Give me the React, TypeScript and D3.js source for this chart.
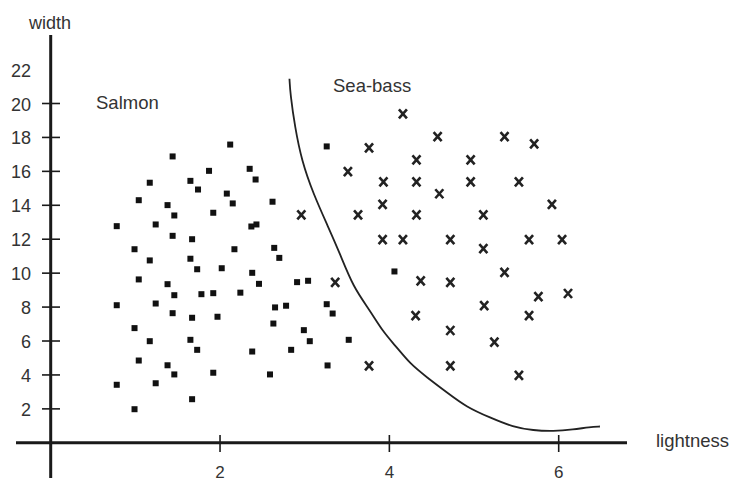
import React from "react";
import * as d3 from "d3";

// Salmon samples: [lightness, width]
const salmonLightness = [
  1.44, 2.12, 1.87, 2.35, 2.42, 1.17, 1.65, 1.74, 2.08, 1.04, 1.38, 2.15, 2.62,
  1.46, 1.92, 0.78, 1.24, 2.37, 2.43, 1.44, 1.67, 0.99, 2.17, 2.64, 2.7, 1.17,
  1.65, 1.73, 2.02, 2.38, 3.26, 4.06, 1.04, 1.38, 2.46, 2.91, 3.04, 1.46, 1.78,
  1.92, 2.24, 0.78, 1.24, 2.65, 2.78, 3.26, 1.44, 1.67, 1.97, 3.33, 2.63, 0.99,
  2.99, 1.17, 1.65, 3.06, 3.52, 1.73, 2.38, 2.84, 1.04, 1.38, 3.27, 1.46, 1.92,
  2.59, 0.78, 1.24, 1.67, 0.99,
];
const salmonWidth = [
  16.88, 17.58, 16.03, 16.15, 15.52, 15.33, 15.44, 14.93, 14.69, 14.3, 14.01,
  14.11, 14.21, 13.4, 13.56, 12.77, 12.87, 12.75, 12.87, 12.2, 12.0, 11.41,
  11.41, 11.49, 10.9, 10.75, 10.85, 10.23, 10.29, 10.02, 17.47, 10.1, 9.63,
  9.35, 9.37, 9.47, 9.55, 8.7, 8.76, 8.82, 8.85, 8.11, 8.21, 7.98, 8.08, 8.17,
  7.64, 7.37, 7.43, 7.62, 7.03, 6.76, 6.64, 5.99, 6.07, 5.99, 6.07, 5.48, 5.38,
  5.48, 4.85, 4.57, 4.56, 4.03, 4.13, 4.03, 3.42, 3.51, 2.57, 1.98,
];

// Sea-bass samples: [lightness, width]
const seabassLightness = [
  4.16, 4.57, 5.36, 5.71, 3.76, 4.32, 4.96, 3.51, 3.93, 4.32, 4.96, 5.53, 4.59,
  3.92, 5.92, 2.96, 3.63, 4.32, 5.11, 3.92, 4.16, 4.72, 5.65, 6.04, 5.11, 5.36,
  4.37, 4.72, 3.36, 6.11, 5.76, 5.12, 4.31, 5.65, 4.72, 5.24, 3.76, 4.72, 5.53,
];
const seabassWidth = [
  19.39, 18.05, 18.05, 17.62, 17.39, 16.68, 16.68, 15.99, 15.38, 15.38, 15.38,
  15.38, 14.68, 14.05, 14.05, 13.44, 13.44, 13.44, 13.44, 11.98, 11.98, 11.98,
  11.98, 11.98, 11.44, 10.04, 9.54, 9.45, 9.45, 8.8, 8.62, 8.08, 7.5, 7.5,
  6.62, 5.93, 4.54, 4.54, 3.97,
];

// Decision boundary
const boundaryLightness = [
  2.82, 2.83, 2.885, 2.964, 3.101, 3.279, 3.417, 3.574, 3.771, 3.928, 4.086,
  4.244, 4.441, 4.677, 4.913, 5.188, 5.464, 5.7, 5.936, 6.172, 6.369, 6.487,
];
const boundaryWidth = [
  21.46, 20.57, 18.6, 16.64, 14.68, 12.71, 11.14, 9.17, 7.8, 6.52, 5.64, 4.66,
  3.87, 2.98, 2.1, 1.49, 0.92, 0.73, 0.68, 0.78, 0.93, 0.96,
];

const yTickValues = [2, 4, 6, 8, 10, 12, 14, 16, 18, 20];
const yLabelValues = [2, 4, 6, 8, 10, 12, 14, 16, 18, 20, 22];
const xTickValues = [2, 4, 6];

const W = 734;
const H = 482;

export default function App() {
  const x = d3.scaleLinear().domain([0, 6]).range([50.7, 558.7]);
  const y = d3.scaleLinear().domain([0, 20]).range([442.8, 103.5]);

  const line = d3
    .line<number>()
    .x((_, i) => x(boundaryLightness[i]))
    .y((_, i) => y(boundaryWidth[i]))
    .curve(d3.curveBasis);

  const font = "'Liberation Sans', Arial, sans-serif";
  const textColor = "#333";
  const ink = "#1a1a1a";
  const sq = 6;

  return (
    <svg
      width={W}
      height={H}
      style={{ position: "absolute", left: 0, top: 0, background: "#fff" }}
      fontFamily={font}
    >
      <rect x={0} y={0} width={W} height={H} fill="#fff" />
      {/* axes */}
      <line x1={x(0)} x2={x(0)} y1={35} y2={478} stroke={ink} strokeWidth={3} />
      <line x1={16} x2={627} y1={y(0)} y2={y(0)} stroke={ink} strokeWidth={3} />
      {yTickValues.map((v) => (
        <line key={"yt" + v} x1={42} x2={60} y1={y(v)} y2={y(v)} stroke={ink} strokeWidth={1.6} />
      ))}
      {yLabelValues.map((v) => (
        <text
          key={"yl" + v}
          x={31}
          y={y(v) + 7}
          textAnchor="end"
          fontSize={18}
          fill={textColor}
        >
          {v}
        </text>
      ))}
      {xTickValues.map((v) => (
        <line key={"xt" + v} x1={x(v)} x2={x(v)} y1={435} y2={452} stroke={ink} strokeWidth={1.6} />
      ))}
      {xTickValues.map((v) => (
        <text key={"xl" + v} x={x(v)} y={478} textAnchor="middle" fontSize={17} fill={textColor}>
          {v}
        </text>
      ))}
      <text x={50} y={29} textAnchor="middle" fontSize={18} fill={textColor}>
        width
      </text>
      <text x={656} y={447} fontSize={18.5} fill={textColor}>
        lightness
      </text>
      <text x={96} y={109} fontSize={18.5} fill={textColor}>
        Salmon
      </text>
      <text x={333} y={91.5} fontSize={18.5} fill={textColor}>
        Sea-bass
      </text>

      {/* boundary */}
      <path d={line(boundaryLightness) || ""} fill="none" stroke="#222" strokeWidth={1.8} />

      {/* salmon */}
      {salmonLightness.map((lx, i) => (
        <rect
          key={"s" + i}
          x={x(lx) - sq / 2}
          y={y(salmonWidth[i]) - sq / 2}
          width={sq}
          height={sq}
          fill="#111"
        />
      ))}

      {/* sea-bass */}
      {seabassLightness.map((lx, i) => {
        const cx = x(lx);
        const cy = y(seabassWidth[i]);
        return (
          <path
            key={"b" + i}
            d={`M${cx - 4},${cy - 4.5}L${cx + 4},${cy + 4.5}M${cx + 4},${cy - 4.5}L${cx - 4},${cy + 4.5}`}
            stroke="#222"
            strokeWidth={2.6}
            fill="none"
          />
        );
      })}
    </svg>
  );
}
